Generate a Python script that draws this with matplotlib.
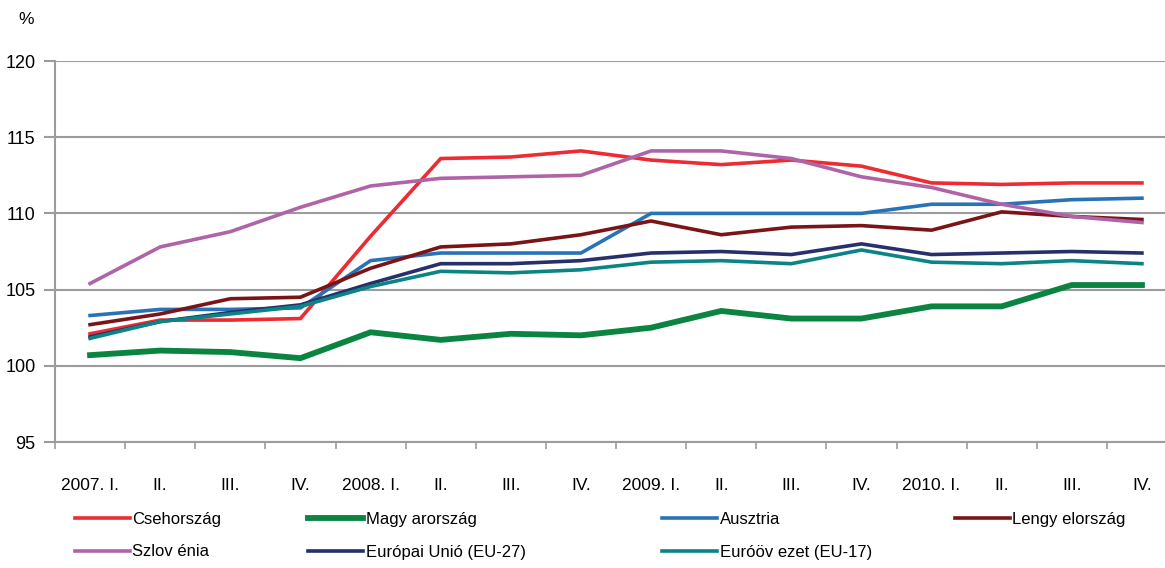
import matplotlib.pyplot as plt
from matplotlib.lines import Line2D

plt.rcParams['font.family'] = ['Liberation Sans', 'DejaVu Sans']

quarters = ["2007. I.", "II.", "III.", "IV.",
            "2008. I.", "II.", "III.", "IV.",
            "2009. I.", "II.", "III.", "IV.",
            "2010. I.", "II.", "III.", "IV."]

cseh = [102.1, 103.0, 103.0, 103.1, 108.5, 113.6, 113.7, 114.1,
        113.5, 113.2, 113.5, 113.1, 112.0, 111.9, 112.0, 112.0]
magy = [100.7, 101.0, 100.9, 100.5, 102.2, 101.7, 102.1, 102.0,
        102.5, 103.6, 103.1, 103.1, 103.9, 103.9, 105.3, 105.3]
ausz = [103.3, 103.7, 103.7, 103.8, 106.9, 107.4, 107.4, 107.4,
        110.0, 110.0, 110.0, 110.0, 110.6, 110.6, 110.9, 111.0]
lengy = [102.7, 103.4, 104.4, 104.5, 106.4, 107.8, 108.0, 108.6,
         109.5, 108.6, 109.1, 109.2, 108.9, 110.1, 109.8, 109.6]
szlov = [105.4, 107.8, 108.8, 110.4, 111.8, 112.3, 112.4, 112.5,
         114.1, 114.1, 113.6, 112.4, 111.7, 110.6, 109.8, 109.4]
eu27 = [101.9, 102.9, 103.5, 104.0, 105.4, 106.7, 106.7, 106.9,
        107.4, 107.5, 107.3, 108.0, 107.3, 107.4, 107.5, 107.4]
eu17 = [101.8, 102.9, 103.4, 103.9, 105.2, 106.2, 106.1, 106.3,
        106.8, 106.9, 106.7, 107.6, 106.8, 106.7, 106.9, 106.7]

series = [
    ("Csehország", cseh, "#ED2B33", 2.6),
    ("Magy arország", magy, "#0A8440", 4.2),
    ("Ausztria", ausz, "#2A72B8", 2.6),
    ("Lengy elország", lengy, "#7B1416", 2.6),
    ("Szlov énia", szlov, "#B064A8", 2.6),
    ("Európai Unió (EU-27)", eu27, "#27306B", 2.6),
    ("Euróöv ezet (EU-17)", eu17, "#0A8484", 2.6),
]

fig = plt.figure(figsize=(11.65, 5.68), dpi=100)
ax = fig.add_axes([55 / 1165, 1 - 442 / 568, (1177 - 55) / 1165, (442 - 61) / 568])

x = list(range(len(quarters)))
lines = {}
for name, vals, col, lw in series:
    ln, = ax.plot(x, vals, color=col, lw=lw, solid_joinstyle="miter", zorder=3)
    lines[name] = ln

grey = "#9A9C9E"
ax.set_ylim(95, 120)
ax.set_xlim(-0.5, 15.5)
ax.set_yticks(range(95, 121, 5))
ax.yaxis.grid(True, color=grey, lw=1.5)
ax.set_axisbelow(True)
for s in ["top", "right"]:
    ax.spines[s].set_visible(False)
for s in ["left", "bottom"]:
    ax.spines[s].set_color(grey)
    ax.spines[s].set_linewidth(1.5)

ax.set_xticks(x)
ax.set_xticklabels(quarters)
ax.set_xticks([i - 0.5 for i in range(len(quarters) + 1)], minor=True)
ax.tick_params(axis="x", which="major", length=0, pad=26, labelsize=12.5)
ax.tick_params(axis="x", which="minor", length=5, color=grey, width=1.2)
ax.tick_params(axis="y", length=8, color=grey, width=1.5, pad=6, labelsize=13)

fig.text(18 / 1165, 1 - 20 / 568, "%", fontsize=12.5, va="center")

# legend, four columns at the reference positions
cols = [
    (75, ["Csehország", "Szlov énia"]),
    (308, ["Magy arország", "Európai Unió (EU-27)"]),
    (662, ["Ausztria", "Euróöv ezet (EU-17)"]),
    (955, ["Lengy elország"]),
]
for xpix, names in cols:
    handles = [Line2D([], [], color=lines[n].get_color(), lw=lines[n].get_linewidth())
               for n in names]
    fig.legend(handles, names, loc="upper left",
               bbox_to_anchor=(xpix / 1165, 1 - 512 / 568),
               frameon=False, fontsize=12, handlelength=3.3,
               handletextpad=0.15, labelspacing=1.05,
               borderaxespad=0, borderpad=0)

fig.savefig("out.png", dpi=100)
